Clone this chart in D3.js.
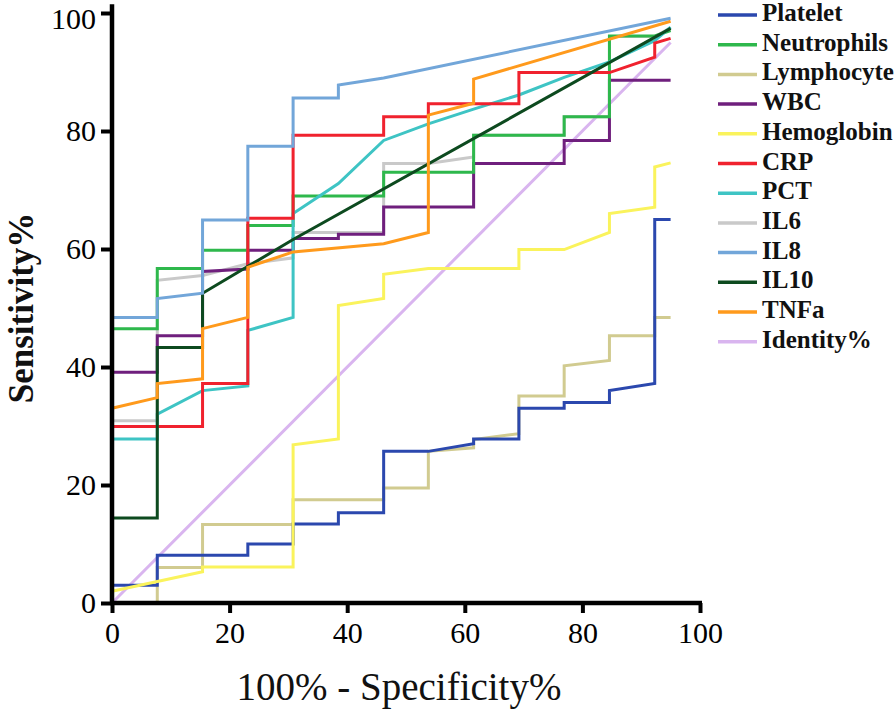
<!DOCTYPE html>
<html><head><meta charset="utf-8">
<script src="https://cdn.jsdelivr.net/npm/d3@7"></script>
</head>
<body style="margin:0;padding:0;background:#fff;">
<svg id="chart" width="896" height="709" style="display:block;"></svg>
<script>
// ---- data: [100% - Specificity%, Sensitivity%] ----
const platelet = [[0,0],[0,3],[7.7,3],[7.7,8.1],[23.1,8.1],[23.1,10],[30.8,10],[30.8,13.4],[38.5,13.4],[38.5,15.3],[46.2,15.3],[46.2,25.7],[53.8,25.7],[61.5,27],[61.5,27.8],[69.2,27.8],[69.2,33],[76.9,33],[76.9,34],[84.6,34],[84.6,36],[92.3,37.2],[92.3,65],[95,65]];
const neutrophils = [[0,0],[0,46.5],[7.7,46.5],[7.7,56.7],[15.4,56.7],[15.4,59.8],[23.1,59.8],[23.1,64],[30.8,64],[30.8,69],[46.2,69],[46.2,73],[61.5,73],[61.5,79.3],[76.9,79.3],[76.9,82.4],[84.6,82.4],[84.6,96.1],[92.3,96.1],[95,97]];
const lymphocyte = [[0,0],[7.7,0],[7.7,6],[15.4,6],[15.4,13.3],[30.8,13.3],[30.8,17.5],[46.2,17.5],[46.2,19.5],[53.8,19.5],[53.8,25.7],[61.5,26.3],[61.5,27.7],[69.2,28.7],[69.2,35.1],[76.9,35.1],[76.9,40.2],[84.6,41.1],[84.6,45.3],[92.3,45.3],[92.3,48.4],[95,48.4]];
const wbc = [[0,0],[0,39.1],[7.7,39.1],[7.7,45.3],[15.4,45.3],[15.4,56.2],[23.1,56.6],[23.1,59.8],[30.8,59.8],[30.8,61.8],[38.5,61.8],[38.5,62.5],[46.2,62.5],[46.2,67.1],[61.5,67.1],[61.5,74.5],[76.9,74.5],[76.9,78.4],[84.6,78.4],[84.6,88.6],[95,88.6]];
const hemoglobin = [[0,2],[15.4,5.3],[15.4,6.1],[30.8,6.1],[30.8,26.8],[38.5,27.8],[38.5,50.4],[46.2,51.6],[46.2,55.7],[53.8,56.7],[69.2,56.7],[69.2,59.9],[76.9,59.9],[84.6,62.8],[84.6,66],[92.3,67.1],[92.3,73.9],[95,74.6]];
const crp = [[0,0],[0,29.9],[15.4,29.9],[15.4,37.2],[23.1,37.2],[23.1,65.2],[30.8,65.2],[30.8,79.3],[46.2,79.3],[46.2,82.4],[53.8,82.4],[53.8,84.6],[69.2,84.6],[69.2,89.9],[84.6,89.9],[92.3,92.5],[92.3,94.9],[95,95.7]];
const pct = [[0,0],[0,27.8],[7.7,27.8],[7.7,32],[15.4,36],[23.1,36.8],[23.1,46.2],[30.8,48.4],[30.8,66],[38.5,71.1],[46.2,78.4],[53.8,81.2],[61.5,83.7],[69.2,86.1],[76.9,89.1],[84.6,91.7],[92.3,95.3],[95,97.6]];
const il6 = [[0,0],[0,30.9],[7.7,30.9],[7.7,54.7],[15.4,55.5],[23.1,57.5],[30.8,58.5],[30.8,62.8],[46.2,62.8],[46.2,74.5],[53.8,74.5],[61.5,75.6],[61.5,79.3],[76.9,79.3],[76.9,82.4],[84.6,82.4],[84.6,96],[92.3,96],[95,97.5]];
const il8 = [[0,0],[0,48.4],[7.7,48.4],[7.7,51.6],[15.4,52.5],[15.4,64.9],[23.1,64.9],[23.1,77.4],[30.8,77.4],[30.8,85.6],[38.5,85.6],[38.5,87.8],[46.2,89],[95,99.1]];
const il10 = [[0,0],[0,14.4],[7.7,14.4],[7.7,43.3],[15.4,43.3],[15.4,52.5],[30.8,61.6],[95,97.4]];
const tnfa = [[0,0],[0,33],[7.7,34.8],[7.7,37.2],[15.4,38],[15.4,46.5],[23.1,48.4],[23.1,56.9],[30.8,59.5],[46.2,60.9],[53.8,62.8],[53.8,82.7],[61.5,84.7],[61.5,88.8],[95,98.6]];
const identity = [[0,0],[95,95]];

const seriesNames = ["Platelet","Neutrophils","Lymphocyte","WBC","Hemoglobin","CRP","PCT","IL6","IL8","IL10","TNFa","Identity%"];
const seriesData = [platelet,neutrophils,lymphocyte,wbc,hemoglobin,crp,pct,il6,il8,il10,tnfa,identity];
const seriesColors = ["#2b48ae","#2eb84c","#d1cb90","#6f1f7d","#faf35c","#f0222e","#3ec4c4","#c9c9c9","#72a6d9","#0d4a1f","#ff9a1c","#d9b5ef"];
const xTicks = [0,20,40,60,80,100];
const yTicks = [0,20,40,60,80,100];
const xTitle = "100% - Specificity%";
const yTitle = "Sensitivity%";

// ---- drawing ----
const FONT = "Liberation Serif, Tinos, Times New Roman, DejaVu Serif, serif";
const svg = d3.select("#chart");
const x = d3.scaleLinear().domain([0,100]).range([112,700]);
const y = d3.scaleLinear().domain([0,100]).range([603,13]);

// texts first (so the serif font is requested before anything else)
serif = sel => sel.attr("font-family", FONT);
const titles = svg.append("g");
serif(titles.append("text")).attr("x",399).attr("y",700).attr("text-anchor","middle")
  .attr("font-size",39).attr("fill","#111").text(xTitle);
serif(titles.append("text")).attr("transform","translate(33,308) rotate(-90)").attr("text-anchor","middle")
  .attr("font-size",35).attr("font-weight","bold").attr("fill","#111").text(yTitle);

const leg = svg.append("g");
seriesNames.forEach((n,i)=>{
  const yy = 15 + i*29.7;
  leg.append("line").attr("x1",718).attr("x2",757).attr("y1",yy).attr("y2",yy)
    .attr("stroke",seriesColors[i]).attr("stroke-width",3.5);
  serif(leg.append("text")).attr("x",762).attr("y",yy+6)
    .attr("font-size",25).attr("font-weight","bold").attr("fill","#111").text(n);
});

const line = d3.line().x(d=>x(d[0])).y(d=>y(d[1]));
const drawOrder = [11,7,2,0,4,3,1,6,5,9,10,8];
const g = svg.append("g");
drawOrder.forEach(i=>{
  g.append("path").datum(seriesData[i])
   .attr("fill","none").attr("stroke",seriesColors[i])
   .attr("stroke-width",3).attr("stroke-linejoin","miter")
   .attr("d",line);
});

const xAxis = svg.append("g").attr("transform",`translate(0,${y(0)})`)
  .call(d3.axisBottom(x).tickValues(xTicks).tickSize(10).tickSizeOuter(0).tickPadding(4));
const yAxis = svg.append("g").attr("transform",`translate(${x(0)},0)`)
  .call(d3.axisLeft(y).tickValues(yTicks).tickSize(11).tickSizeOuter(0).tickPadding(5));
[xAxis,yAxis].forEach(a=>{
  serif(a).attr("font-size",30);
  a.select(".domain").attr("stroke","#000").attr("stroke-width",4.5);
  a.selectAll(".tick line").attr("stroke","#000").attr("stroke-width",4);
  serif(a.selectAll(".tick text")).attr("fill","#000").attr("font-size",30);
});
yAxis.select(".domain").attr("d",`M0,${y(0)+2}V${y(101.5)}`);
xAxis.select(".domain").attr("d",`M${x(0)-2},0H${x(100)+2}`);
xAxis.selectAll(".tick text").attr("dy","0.85em");
yAxis.selectAll(".tick text").attr("dy","0.33em");
yAxis.selectAll(".tick").filter(d=>d===100).select("text").attr("dy","0.5em");

// re-apply fonts once fonts are settled to force a relayout
function reapply(){ svg.selectAll("text").attr("font-family", FONT); }
if (document.fonts && document.fonts.ready) document.fonts.ready.then(reapply);
setTimeout(reapply, 50);
</script></body></html>
